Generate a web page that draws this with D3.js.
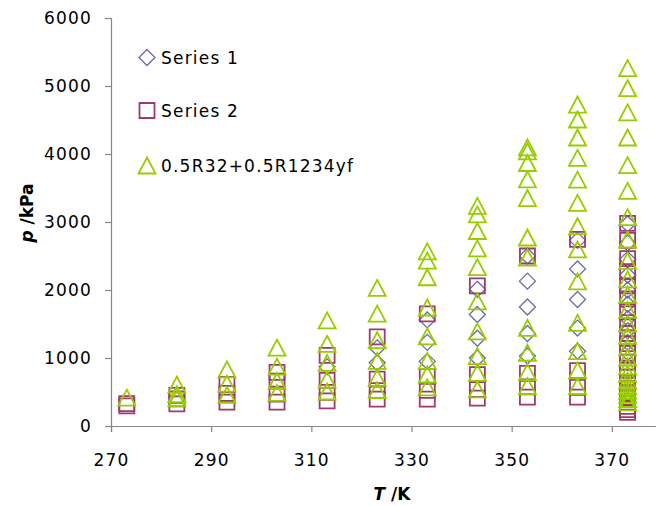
<!DOCTYPE html>
<html>
<head>
<meta charset="utf-8">
<script src="https://cdn.jsdelivr.net/npm/d3@7"></script>
<style>
  html, body { margin: 0; padding: 0; background: #fff; }
  svg text { font-family: "DejaVu Sans", sans-serif; fill: #000; }
</style>
</head>
<body>
<svg id="chart" width="656" height="506"></svg>
<script>
// ---------- data ----------
const temperatures = [273.15, 283.15, 293.15, 303.15, 313.15, 323.15, 333.15, 343.15, 353.15, 363.15, 373.15];

const series1Name = "Series 1";
const series1 = [
  [], [], [], [],
  [870],
  [1150, 930],
  [1560, 1230, 950],
  [2010, 1640, 1290, 1000],
  [2500, 2130, 1750, 1360, 1030],
  [2730, 2310, 1860, 1440, 1100],
  [2970, 2690, 2450, 2220, 2000, 1790, 1580, 1400, 1230, 1080]
];

const series2Name = "Series 2";
const series2 = [
  [330, 295],
  [450, 400, 325],
  [610, 480, 350],
  [790, 660, 470, 350],
  [1040, 670, 495, 370],
  [1310, 690, 520, 395],
  [1650, 730, 525, 395],
  [2060, 755, 540, 410],
  [2500, 775, 575, 425],
  [2745, 815, 570, 425],
  [2980, 2730, 2460, 2270, 2060, 1870, 1680, 1520, 1360, 1210, 1070, 940, 820, 720, 630, 550, 480, 410, 350, 290, 240, 200]
];

const series3Name = "0.5R32+0.5R1234yf";
const series3 = [
  [410],
  [600, 460, 400],
  [825, 615, 450],
  [1145, 865, 655, 480],
  [1545, 1200, 920, 675, 500],
  [2025, 1645, 1255, 950, 700, 520],
  [2560, 2425, 2180, 1735, 1310, 950, 750, 560],
  [3230, 3105, 2860, 2605, 2330, 1825, 1385, 1020, 775, 530],
  [4090, 4030, 3860, 3620, 3345, 2765, 2470, 1435, 1070, 785, 580],
  [4720, 4500, 4235, 3935, 3615, 3275, 2930, 2590, 2120, 1510, 1095, 810, 580],
  [5255, 4960, 4605, 4235, 3830, 3450, 3065, 2735, 2420, 2150, 1920, 1700, 1500, 1320, 1150, 1000, 870, 760, 660, 580, 510, 450, 390, 340]
];

const xTicks = [270, 290, 310, 330, 350, 370];
const yTicks = [0, 1000, 2000, 3000, 4000, 5000, 6000];

// ---------- layout ----------
const svg = d3.select("#chart");
const x = d3.scaleLinear().domain([270, 390]).range([111, 712]);
const y = d3.scaleLinear().domain([0, 6000]).range([426, 18]);

const axisColor = "#868686";
const fontSize = 17;
const letterSp = 1.2;

// axes
const gx = svg.append("g").attr("transform", `translate(0,${y(0)})`)
  .call(d3.axisBottom(x).tickValues(xTicks).tickFormat(d3.format("d")).tickSizeOuter(0).tickSize(6).tickPadding(18));
const gy = svg.append("g").attr("transform", `translate(${x(270)},0)`)
  .call(d3.axisLeft(y).tickValues(yTicks).tickFormat(d3.format("d")).tickSizeOuter(0).tickSize(6).tickPadding(13));
[gx, gy].forEach(g => {
  g.select(".domain").attr("stroke", axisColor).attr("stroke-width", 1.2);
  g.selectAll(".tick line").attr("stroke", axisColor).attr("stroke-width", 1.2);
  g.selectAll(".tick text").attr("font-size", fontSize).attr("letter-spacing", letterSp)
    .attr("font-family", "DejaVu Sans").attr("fill", "#000");
});
gx.selectAll(".tick text").attr("dy", "0.95em");

// axis titles
svg.append("text")
  .attr("transform", `translate(33,213) rotate(-90)`)
  .attr("text-anchor", "middle")
  .attr("font-size", fontSize).attr("font-weight", "bold")
  .html('<tspan font-style="italic">p</tspan> /kPa');
svg.append("text")
  .attr("x", 392).attr("y", 500)
  .attr("text-anchor", "middle")
  .attr("font-size", fontSize).attr("font-weight", "bold")
  .html('<tspan font-style="italic">T</tspan> /K');

// markers
const diamond = "M0,-8L8,0L0,8L-8,0Z";
const square = "M-7.5,-7.5H7.5V7.5H-7.5Z";
const triangle = "M0,-8.5L8.5,7.5H-8.5Z";

const seriesDefs = [
  {name: series1Name, vals: series1, path: diamond, color: "#6a6aa6", sw: 1.3},
  {name: series2Name, vals: series2, path: square, color: "#9e3a70", sw: 1.8},
  {name: series3Name, vals: series3, path: triangle, color: "#99cc00", sw: 1.8}
];

seriesDefs.forEach(s => {
  const pts = [];
  s.vals.forEach((arr, i) => arr.forEach(p => pts.push([temperatures[i], p])));
  svg.append("g").selectAll("path").data(pts).join("path")
    .attr("d", s.path)
    .attr("transform", d => `translate(${x(d[0])},${y(d[1])})`)
    .attr("fill", "none").attr("stroke", s.color).attr("stroke-width", s.sw);
});

// legend
const legendY = [57.5, 110.5, 166];
seriesDefs.forEach((s, i) => {
  svg.append("path").attr("d", s.path)
    .attr("transform", `translate(147,${legendY[i]})`)
    .attr("fill", "none").attr("stroke", s.color).attr("stroke-width", s.sw);
  svg.append("text").attr("x", 161).attr("y", legendY[i])
    .attr("dy", "0.36em")
    .attr("font-size", fontSize).attr("letter-spacing", letterSp)
    .text(s.name);
});
</script>
</body>
</html>
